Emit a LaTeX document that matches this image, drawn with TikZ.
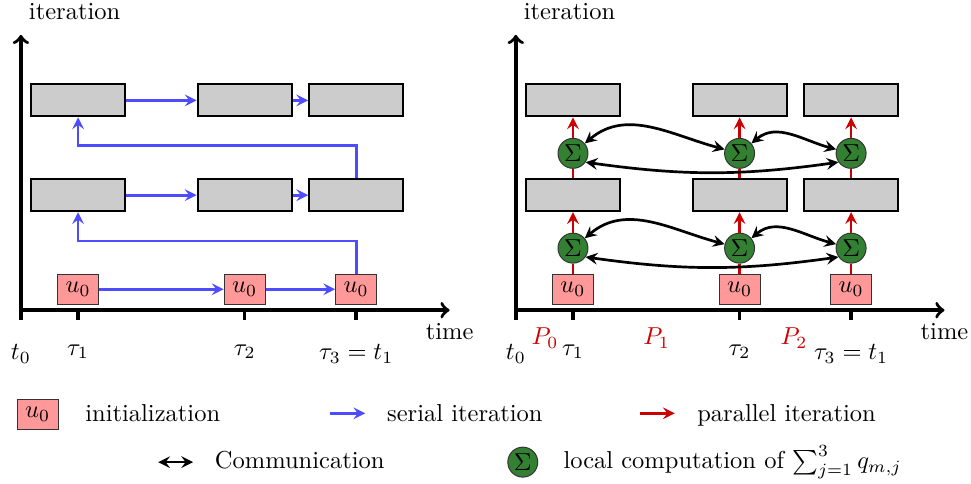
\documentclass[tikz,border=0pt]{standalone}
\usepackage{xcolor}
\usepackage{tikz}
\usepackage{amsmath}
\definecolor{grigio}{HTML}{CCCCCC}
\definecolor{rosa}{HTML}{FF9999}
\definecolor{bluserie}{HTML}{4D4DFF}
\definecolor{rosso}{HTML}{CC0000}
\definecolor{verde}{HTML}{338033}
\tikzset{
  asse/.style={->, line width=1.4pt},
  tacca/.style={line width=1.4pt},
  blocco/.style={draw, thick, fill=grigio, minimum width=1.35cm, minimum height=0.46cm, inner sep=0pt},
  init/.style={draw=black!80, fill=rosa, minimum width=0.59cm, minimum height=0.43cm, inner sep=1pt},
  somma/.style={circle, draw=black!80, fill=verde, minimum size=0.43cm, inner sep=0pt},
  serie/.style={-stealth, line width=1.1pt, bluserie},
  parallelo/.style={-stealth, line width=1.1pt, rosso},
  comm/.style={stealth-stealth, line width=1.1pt},
}

\begin{document}
\begin{tikzpicture}
  \useasboundingbox (-0.30,-2.48) rectangle (13.63,4.45);
  % Axes of both panels
  \foreach \dx in {0,7.10} {
    \draw[asse] (\dx,-0.14) -- (\dx,3.95);
    \draw[asse] (\dx,0) -- (\dx+6.15,0);
    \node at (\dx+0.77,4.28) {iteration};
    \node[below] at (\dx+6.15,-0.06) {time};
    \foreach \x in {0.82,3.21,4.81}
      \draw[tacca] (\dx+\x,0) -- (\dx+\x,-0.14);
    \node[anchor=north] at (\dx,-0.37) {$t_0$};
    \node[anchor=north] at (\dx+0.82,-0.37) {$\tau_1$};
    \node[anchor=north] at (\dx+3.21,-0.37) {$\tau_2$};
    \node[anchor=north] at (\dx+4.81,-0.37) {$\tau_3=t_1$};
  }
  % Serial iteration
  \node[init] (u1) at (0.82,0.30) {$u_0$};
  \node[init] (u2) at (3.21,0.30) {$u_0$};
  \node[init] (u3) at (4.81,0.30) {$u_0$};
  \node[blocco] (a1) at (0.82,1.65) {};
  \node[blocco] (a2) at (3.21,1.65) {};
  \node[blocco] (a3) at (4.81,1.65) {};
  \node[blocco] (b1) at (0.82,3.01) {};
  \node[blocco] (b2) at (3.21,3.01) {};
  \node[blocco] (b3) at (4.81,3.01) {};
  \draw[serie] (u1) -- (u2);
  \draw[serie] (u2) -- (u3);
  \draw[serie] (u3.north) -- ++(0,0.47) -| (a1.south);
  \draw[serie] (a1) -- (a2);
  \draw[serie] (a2) -- (a3);
  \draw[serie] (a3.north) -- ++(0,0.47) -| (b1.south);
  \draw[serie] (b1) -- (b2);
  \draw[serie] (b2) -- (b3);
  % Parallel iteration
  \begin{scope}[xshift=7.10cm]
    \node[rosso] at (0.42,-0.40) {$P_0$};
    \node[rosso] at (2.02,-0.40) {$P_1$};
    \node[rosso] at (3.99,-0.40) {$P_2$};
    \foreach \i/\x in {1/0.82,2/3.21,3/4.81} {
      \node[init] (pu\i) at (\x,0.30) {$u_0$};
      \node[somma] (pt\i) at (\x,0.89) {$\Sigma$};
      \node[blocco] (pa\i) at (\x,1.65) {};
      \node[somma] (ps\i) at (\x,2.25) {$\Sigma$};
      \node[blocco] (pb\i) at (\x,3.01) {};
      \draw[rosso, line width=1.1pt] (pu\i) -- (pt\i);
      \draw[parallelo] (pt\i) -- (pa\i);
      \draw[rosso, line width=1.1pt] (pa\i) -- (ps\i);
      \draw[parallelo] (ps\i) -- (pb\i);
    }
    \foreach \r in {pt,ps} {
      \draw[comm] (\r1) to[out=40,in=165] (\r2);
      \draw[comm] (\r2) to[out=40,in=165] (\r3);
      \draw[comm] (\r1.-35) to[out=-8,in=-172] (\r3.-145);
    }
  \end{scope}
  % Legend
  \node[init] (leginit) at (0.24,-1.49) {$u_0$};
  \node[anchor=base west] at (0.80,-1.60) {initialization};
  \coordinate (lsa) at (4.43,-1.48);
  \coordinate (lsb) at (4.94,-1.48);
  \draw[serie] (lsa) -- (lsb);
  \node[anchor=base west] at (5.13,-1.60) {serial iteration};
  \coordinate (lpa) at (8.88,-1.48);
  \coordinate (lpb) at (9.38,-1.48);
  \draw[parallelo] (lpa) -- (lpb);
  \node[anchor=base west] at (9.58,-1.60) {parallel iteration};
  \coordinate (lca) at (1.97,-2.18);
  \coordinate (lcb) at (2.47,-2.18);
  \draw[comm] (lca) -- (lcb);
  \node[anchor=base west] at (2.66,-2.27) {Communication};
  \node[somma] (legsum) at (7.20,-2.18) {$\Sigma$};
  \node[anchor=base west] at (7.66,-2.27) {local computation of $\sum_{j=1}^{3} q_{m,j}$};
\end{tikzpicture}
\end{document}
